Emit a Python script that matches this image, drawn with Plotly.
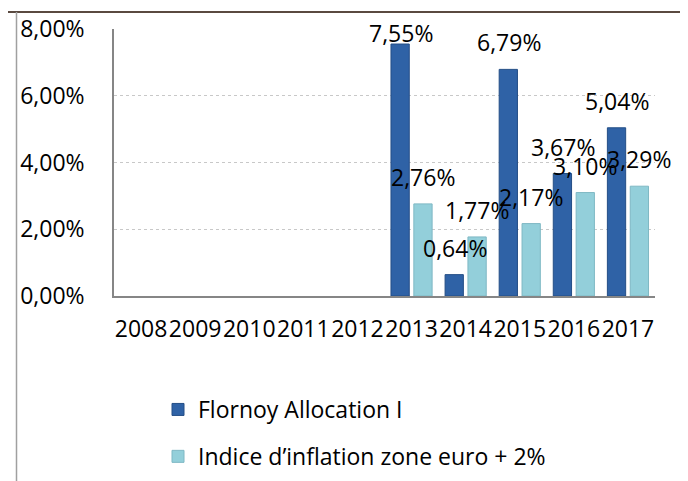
import plotly.graph_objects as go

years = ["2008", "2009", "2010", "2011", "2012", "2013", "2014", "2015", "2016", "2017"]
flornoy = [None, None, None, None, None, 7.55, 0.64, 6.79, 3.67, 5.04]
inflation = [None, None, None, None, None, 2.76, 1.77, 2.17, 3.10, 3.29]
series_names = ["Flornoy Allocation I", "Indice d\u2019inflation zone euro + 2%"]
y_ticks = [0, 2, 4, 6, 8]
y_ticktext = ["0,00%", "2,00%", "4,00%", "6,00%", "8,00%"]

FONT = "'Open Sans', 'Noto Sans', Calibri, sans-serif"
FS = 23
DARK = "#2F62A6"
LIGHT = "#93CFDA"

# page has an 8px body margin: figure coordinates = page coordinates - 8
OFF = 8
W, H = 688 - OFF, 481 - OFF
L, T = 114 - OFF, 29 - OFF
R, B = W - (655 - OFF), H - (296 - OFF)
pw, ph = W - L - R, H - T - B
px_per_unit = ph / 8.0

fig = go.Figure()
fig.add_trace(go.Bar(x=years, y=flornoy, name=series_names[0], legendgroup="a",
                     marker=dict(color=DARK, line=dict(color="#244E86", width=1))))
fig.add_trace(go.Bar(x=years, y=inflation, name=series_names[1], legendgroup="b",
                     marker=dict(color=LIGHT, line=dict(color="#7FB8C4", width=1))))

def fmt(v):
    return f"{v:.2f}".replace(".", ",") + "%"

annotations = []
for series, shift in ((flornoy, -11), (inflation, 11)):
    for i, v in enumerate(series):
        if v is None:
            continue
        yl = min(v + 27 / px_per_unit, 7.87)
        annotations.append(dict(x=i, y=yl, xref="x", yref="y", text=fmt(v),
                                showarrow=False, xshift=shift,
                                font=dict(family=FONT, size=FS, color="#000000"),
                                xanchor="center", yanchor="middle"))

def px_x(p):  # page px -> paper
    return (p - OFF - L) / pw

def px_y(p):
    return (H - B - (p - OFF)) / ph

shapes = [
    dict(type="line", xref="paper", yref="paper", x0=px_x(OFF), x1=px_x(700),
         y0=px_y(12), y1=px_y(12), line=dict(color="#5A4A40", width=2)),
    dict(type="line", xref="paper", yref="paper", x0=px_x(16.5), x1=px_x(16.5),
         y0=px_y(12), y1=px_y(490), line=dict(color="#A0A0A0", width=1.5)),
]

fig.update_layout(
    width=W, height=H,
    margin=dict(l=L, r=R, t=T, b=B, autoexpand=False),
    paper_bgcolor="white", plot_bgcolor="white",
    barmode="group", bargap=0.155, bargroupgap=0.2,
    font=dict(family=FONT, size=FS, color="#000000"),
    annotations=annotations,
    shapes=shapes,
    legend=dict(x=px_x(158), y=px_y(388), xanchor="left", yanchor="top",
                traceorder="grouped", tracegroupgap=14,
                font=dict(family=FONT, size=FS), bgcolor="rgba(0,0,0,0)"),
    showlegend=True,
)
fig.update_xaxes(type="category", categoryorder="array", categoryarray=years,
                 range=[-0.5, 9.5], showgrid=False, showline=True, linecolor="#868686",
                 linewidth=1.5, ticks="outside", ticklen=12, tickcolor="rgba(0,0,0,0)",
                 tickangle=0, tickfont=dict(family=FONT, size=FS))
fig.update_yaxes(range=[0, 8], tickmode="array", tickvals=y_ticks, ticktext=y_ticktext,
                 showgrid=True, gridcolor="#C8C8C8", griddash="dot", gridwidth=1,
                 showline=True, linecolor="#868686", linewidth=1.5, zeroline=False,
                 ticks="outside", ticklen=23, tickcolor="rgba(0,0,0,0)",
                 tickfont=dict(family=FONT, size=FS))

fig.write_html("out.html")
